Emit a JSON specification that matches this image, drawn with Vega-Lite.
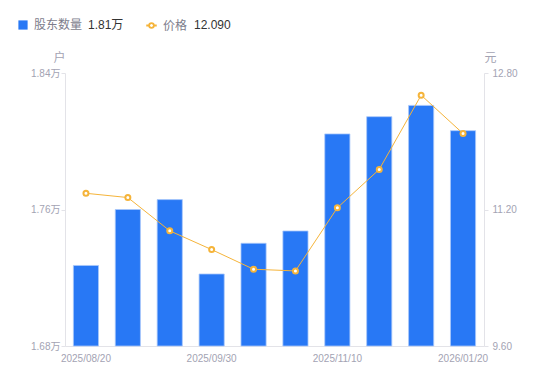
{
  "$schema": "https://vega.github.io/schema/vega-lite/v6.json",
  "width": 419,
  "height": 273,
  "autosize": {"type": "none"},
  "padding": {"left": 65, "top": 73, "right": 66, "bottom": 35},
  "config": {
    "view": {"stroke": null},
    "font": "Liberation Sans, Noto Sans CJK SC",
    "axis": {
      "grid": false,
      "domainColor": "#e3e3e8",
      "tickColor": "#e3e3e8",
      "labelColor": "#a3a3b3",
      "labelFontSize": 10,
      "labelFont": "Liberation Sans, Noto Sans CJK SC",
      "titleFont": "Noto Sans CJK SC",
      "titleColor": "#a3a3b3",
      "titleFontSize": 12,
      "titleFontWeight": "normal"
    }
  },
  "data": {
    "values": [
      {"date": "2025/08/20", "holders": 1.7272, "price": 11.39},
      {"date": "2025/08/31", "holders": 1.7600, "price": 11.34},
      {"date": "2025/09/10", "holders": 1.7658, "price": 10.95},
      {"date": "2025/09/30", "holders": 1.7222, "price": 10.73},
      {"date": "2025/10/20", "holders": 1.7402, "price": 10.50},
      {"date": "2025/10/31", "holders": 1.7474, "price": 10.48},
      {"date": "2025/11/10", "holders": 1.8043, "price": 11.22},
      {"date": "2025/11/30", "holders": 1.8144, "price": 11.67},
      {"date": "2025/12/31", "holders": 1.8210, "price": 12.54},
      {"date": "2026/01/20", "holders": 1.8062, "price": 12.09}
    ]
  },
  "encoding": {
    "x": {
      "field": "date",
      "type": "ordinal",
      "sort": null,
      "title": null,
      "scale": {"paddingInner": 0.4, "paddingOuter": 0.2},
      "axis": {
        "values": ["2025/08/20", "2025/09/30", "2025/11/10", "2026/01/20"],
        "labelAngle": 0,
        "ticks": false,
        "labelPadding": 7,
        "labelOverlap": false
      }
    }
  },
  "layer": [
    {
      "mark": {"type": "bar", "stroke": "#a9c8fa", "strokeWidth": 0.8},
      "encoding": {
        "y": {
          "field": "holders",
          "type": "quantitative",
          "scale": {"domain": [1.68, 1.84], "zero": false, "nice": false},
          "axis": {
            "orient": "left",
            "values": [1.68, 1.76, 1.84],
            "labelExpr": "format(datum.value, '.2f') + '万'",
            "tickSize": 4,
            "labelPadding": 1,
            "title": "户",
            "titleAngle": 0,
            "titleX": -6,
            "titleY": -16,
            "titleAlign": "center",
            "titleBaseline": "middle"
          }
        },
        "y2": {"datum": 1.68},
        "fill": {
          "datum": "股东数量",
          "title": "1.81万",
          "scale": {"range": ["#2878F5"]},
          "legend": {
            "orient": "none",
            "legendX": -48,
            "legendY": -54,
            "padding": 0,
            "symbolType": "square",
            "symbolSize": 85,
            "symbolStrokeWidth": 0,
            "labelColor": "#7d7d8c",
            "labelFontSize": 12,
            "labelOffset": 5,
            "labelFont": "Noto Sans CJK SC",
            "titleOrient": "right",
            "titleColor": "#333333",
            "titleFontSize": 12,
            "titleFontWeight": "normal",
            "titleFont": "Liberation Sans, Noto Sans CJK SC",
            "titlePadding": 6
          }
        }
      }
    },
    {
      "encoding": {
        "y": {
          "field": "price",
          "type": "quantitative",
          "scale": {"domain": [9.6, 12.8], "zero": false, "nice": false},
          "axis": {
            "orient": "right",
            "values": [9.6, 11.2, 12.8],
            "format": ".2f",
            "tickSize": 4,
            "labelPadding": 4,
            "title": "元",
            "titleAngle": 0,
            "titleX": 6,
            "titleY": -16,
            "titleAlign": "center",
            "titleBaseline": "middle"
          }
        }
      },
      "layer": [
        {
          "mark": {"type": "line", "strokeWidth": 1},
          "encoding": {
            "stroke": {
              "datum": "价格",
              "title": "12.090",
              "scale": {"range": ["#F5B43A"]},
              "legend": {
                "orient": "none",
                "legendX": 80,
                "legendY": -54,
                "padding": 0,
                "symbolType": "M -1 0 L -0.45 0 M 0.45 0 L 1 0 M -0.45 0 A 0.45 0.45 0 1 0 0.45 0 A 0.45 0.45 0 1 0 -0.45 0",
                "symbolSize": 110,
                "symbolFillColor": "white",
                "symbolStrokeColor": "#F5B43A",
                "symbolStrokeWidth": 1.8,
                "labelColor": "#7d7d8c",
                "labelFontSize": 12,
                "labelOffset": 5,
                "labelFont": "Noto Sans CJK SC",
                "titleOrient": "right",
                "titleColor": "#333333",
                "titleFontSize": 12,
                "titleFontWeight": "normal",
                "titleFont": "Liberation Sans, Noto Sans CJK SC",
                "titlePadding": 7
              }
            }
          }
        },
        {
          "mark": {"type": "point", "filled": true, "fill": "white", "stroke": "#F5B43A", "strokeWidth": 2, "size": 25, "opacity": 1}
        }
      ]
    }
  ],
  "resolve": {"scale": {"y": "independent"}}
}
